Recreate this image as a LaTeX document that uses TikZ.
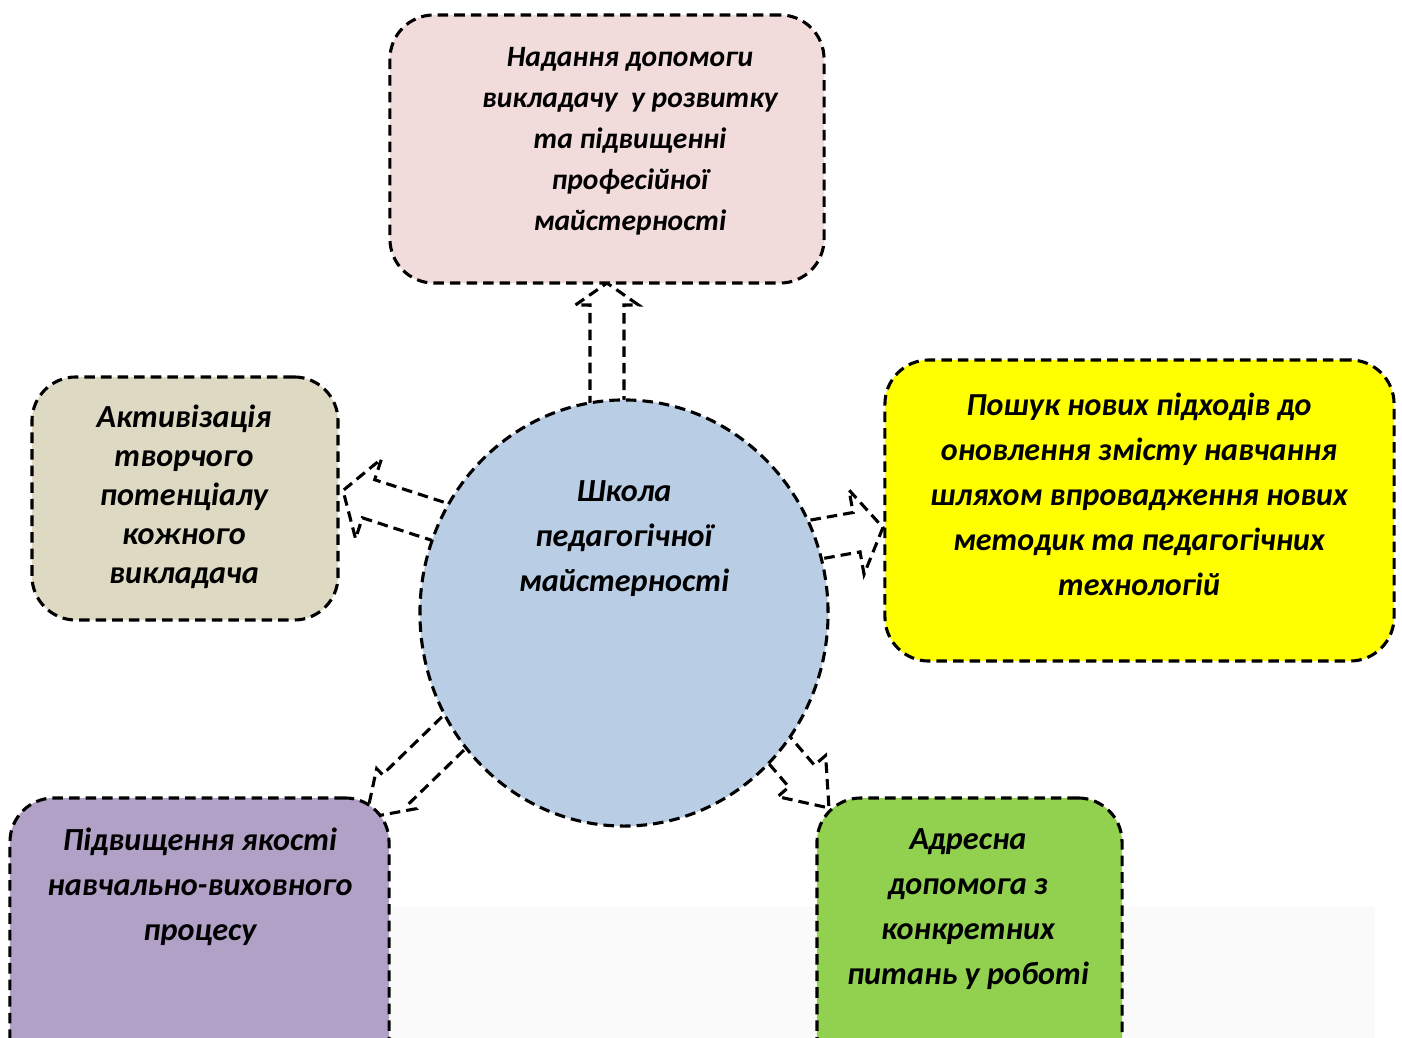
\documentclass[tikz,border=0pt]{standalone}
\usepackage{fontspec}
\setmainfont{Carlito}
\usetikzlibrary{positioning,calc,shapes.geometric,backgrounds}

\definecolor{pinkbox}{HTML}{F2DCDB}
\definecolor{sandbox}{HTML}{DDD9C3}
\definecolor{yellowbox}{HTML}{FFFF00}
\definecolor{lilacbox}{HTML}{B2A1C7}
\definecolor{greenbox}{HTML}{92D050}
\definecolor{schoolblue}{HTML}{B9CDE5}
\definecolor{paper}{HTML}{FAFAFA}

\tikzset{
  dashline/.style={draw=black, line width=2.2pt, dash pattern=on 7.5pt off 4.3pt},
  roundbox/.style={dashline, rectangle, rounded corners=1.1cm, inner sep=0pt, outer sep=0pt},
  arrowline/.style={dashline, fill=white, line join=miter},
  txt/.style 2 args={align=center, inner sep=0pt, font=\fontsize{#1}{#2}\selectfont\bfseries\itshape},
}

% base, tip, shaft half width, head half width, head length
\newcommand\blockarrow[5]{%
  \coordinate (hb) at ($(#2)!#5!(#1)$);
  \draw[arrowline] ($(#1)!#3!90:(#2)$) -- ($(hb)!#3!-90:(#1)$) -- ($(hb)!#4!-90:(#1)$)
    -- (#2) -- ($(hb)!#4!90:(#1)$) -- ($(hb)!#3!90:(#1)$) -- ($(#1)!#3!-90:(#2)$) -- cycle;
}

\begin{document}
\begin{tikzpicture}[x=0.025cm, y=-0.025cm]
    \useasboundingbox (0,0) rectangle (1402,1038);

    % boxes round the school
    \node[roundbox, fill=pinkbox, minimum width=10.85cm, minimum height=6.7cm] (help) at (607,149) {};
    \node[roundbox, fill=sandbox, minimum width=7.65cm, minimum height=6.075cm] (activ) at (185,498.5) {};
    \node[roundbox, fill=yellowbox, minimum width=12.725cm, minimum height=7.525cm] (search) at (1139.5,510.5) {};
    \node[roundbox, fill=lilacbox, minimum width=9.475cm, minimum height=7.55cm] (quality) at (199.5,949) {};
    \node[roundbox, fill=greenbox, minimum width=7.625cm, minimum height=7.55cm] (address) at (969.5,949) {};
    \node[dashline, ellipse, fill=schoolblue, minimum width=10.2cm, minimum height=10.65cm, inner sep=0pt] (school) at (624,613) {};

    \node[txt={21}{29.2}] (helptext) at (630,141) {Надання допомоги\\викладачу \ у розвитку\\та підвищенні\\професійної\\майстерності};
    \node[txt={22.9}{27.7}] (activtext) at (184,497) {Активізація\\творчого\\потенціалу\\кожного\\викладача};
    \node[txt={22.8}{32}] (searchtext) at (1139,494) {Пошук нових підходів до\\оновлення змісту навчання\\шляхом впровадження нових\\методик та педагогічних\\технологій};
    \node[txt={22.9}{32}] (qualitytext) at (200,887) {Підвищення якості\\навчально-виховного\\процесу};
    \node[txt={22.9}{32}] (addresstext) at (968,909) {Адресна\\допомога з\\конкретних\\питань у роботі};
    \node[txt={22.9}{32}] (schooltext) at (624,539) {Школа\\педагогічної\\майстерності};

    \coordinate (tipA) at (help.south);
    \coordinate (baseA) at ($(tipA)+(0,140)$);
    \coordinate (tipB) at ($(activ.east)+(5,-8)$);
    \coordinate (baseB) at ($(tipB)+(114,37)$);
    \coordinate (tipC) at ($(search.west)+(-2,17)$);
    \coordinate (baseC) at ($(tipC)+(-118,21)$);
    \coordinate (tipD) at ($(quality.north east)+(-23,20)$);
    \coordinate (baseD) at ($(tipD)+(108,-105)$);
    \coordinate (tipE) at ($(address.north west)+(12,10)$);
    \coordinate (baseE) at ($(tipE)+(-78,-91)$);

    \begin{scope}[on background layer]
        \fill[paper] (385,907) rectangle (1375,1038);
        \blockarrow{baseA}{tipA}{0.425cm}{0.79cm}{0.55cm}
        \blockarrow{baseB}{tipB}{0.5cm}{1.05cm}{0.67cm}
        \blockarrow{baseC}{tipC}{0.5cm}{1.07cm}{0.67cm}
        \blockarrow{baseD}{tipD}{0.49cm}{0.7cm}{1.05cm}
        \blockarrow{baseE}{tipE}{0.42cm}{0.79cm}{1.05cm}
    \end{scope}
\end{tikzpicture}
\end{document}
